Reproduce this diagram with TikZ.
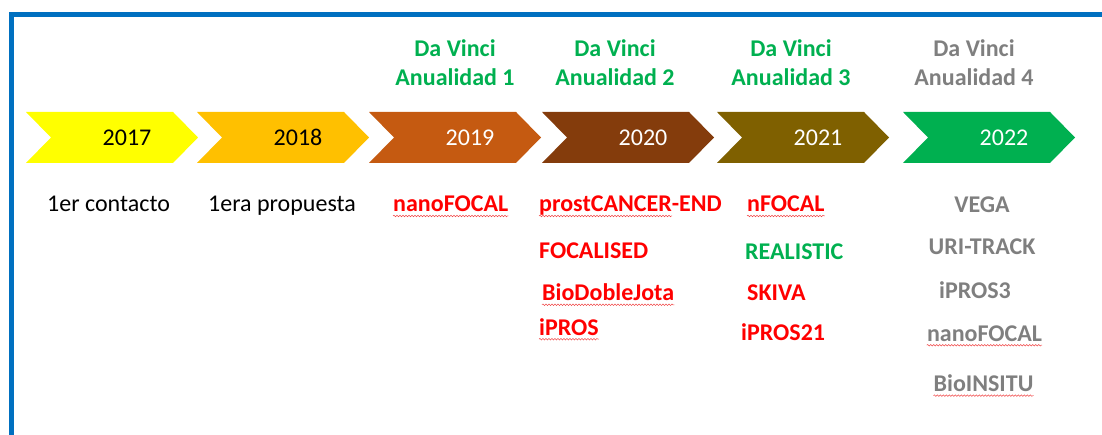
\documentclass[tikz,border=0pt]{standalone}
\usepackage{fontspec}
\setmainfont{Carlito}
\usetikzlibrary{positioning,decorations.pathmorphing}
\definecolor{frameblue}{HTML}{0070C0}
\definecolor{dvgreen}{HTML}{00B050}
\definecolor{dvgray}{HTML}{7F7F7F}
\definecolor{projred}{HTML}{FF0000}
\definecolor{spellred}{HTML}{F04848}
\definecolor{yr17}{HTML}{FFFF00}
\definecolor{yr18}{HTML}{FFC000}
\definecolor{yr19}{HTML}{C55A11}
\definecolor{yr20}{HTML}{843C0C}
\definecolor{yr21}{HTML}{7F6000}
\definecolor{yr22}{HTML}{00B050}

\begin{document}
\begin{tikzpicture}[
    x=1pt, y=1pt,
    every node/.style={font=\fontsize{24}{29}\selectfont, inner sep=0pt},
    year/.style={anchor=base},
    anual/.style={font=\fontsize{24}{29}\selectfont\bfseries, text=dvgreen, align=center},
    hito/.style={anchor=base west, text=black},
    proj/.style={font=\fontsize{24}{29}\selectfont\bfseries, text=projred, text height=17pt, text depth=5pt},
    spell/.style={draw=spellred, line width=0.5pt, decorate, decoration={snake, amplitude=0.8pt, segment length=3pt}}
  ]
  \useasboundingbox (0,0) rectangle (1102,435);
  % marco
  \draw[frameblue, line width=5pt] (11.5,0) -- (11.5,420) -- (1102,420);

  % flechas de los anos
  \foreach \x/\yr/\col/\txt in {26/2017/yr17/black, 197/2018/yr18/black, 369/2019/yr19/white,
                                542/2020/yr20/white, 717/2021/yr21/white, 903/2022/yr22/white}{
    \fill[\col] (\x,323) -- ++(147,0) -- ++(25,-25.5) -- ++(-25,-25.5) -- ++(-147,0) -- ++(25,25.5) -- cycle;
    \node[year, text=\txt] (y\yr) at (\x+101,289) {\yr};
  }

  % anualidades
  \node[anual] (h19) at (455,372.5) {Da Vinci\\Anualidad 1};
  \node[anual] (h20) at (615,372.5) {Da Vinci\\Anualidad 2};
  \node[anual] (h21) at (791,372.5) {Da Vinci\\Anualidad 3};
  \node[anual, text=dvgray] (h22) at (974,372.5) {Da Vinci\\Anualidad 4};

  % hitos
  \node[hito] (c17) at (47,223) {1er contacto};
  \node[hito] (c18) at (208,223) {1era propuesta};
  \node[proj, anchor=base west] (p19) at (393,223) {nanoFOCAL};

  \node[proj, anchor=base west] (p20a) at (539,223) {prostCANCER-END};
  \node[proj, below right=24pt and 0pt of p20a.south west] (p20b) {FOCALISED};
  \node[proj, below right=20pt and 3pt of p20b.south west] (p20c) {BioDobleJota};
  \node[proj, below right=12pt and -3pt of p20c.south west] (p20d) {iPROS};

  \node[proj, anchor=base west] (p21a) at (747,223) {nFOCAL};
  \node[proj, text=dvgreen, below right=25pt and -2pt of p21a.south west] (p21b) {REALISTIC};
  \node[proj, below right=19pt and 2pt of p21b.south west] (p21c) {SKIVA};
  \node[proj, below right=17pt and -6pt of p21c.south west] (p21d) {iPROS21};

  \node[proj, text=dvgray, anchor=base] (p22a) at (982,222) {VEGA};
  \node[proj, text=dvgray, below=19pt of p22a] (p22b) {URI-TRACK};
  \node[proj, text=dvgray, below=22pt of p22b, xshift=-7pt] (p22c) {iPROS3};
  \node[proj, text=dvgray, below=20pt of p22c, xshift=9.5pt] (p22d) {nanoFOCAL};
  \node[proj, text=dvgray, below=28pt of p22d, xshift=-1pt] (p22e) {BioINSITU};

  % subrayado ortografico
  \foreach \n in {p19,p20c,p20d,p21a,p22d,p22e}
    \draw[spell] ([yshift=-4pt]\n.base west) -- ([yshift=-4pt]\n.base east);
  \draw[spell] ([yshift=-4pt]p20a.base west) -- ([xshift=-50pt,yshift=-4pt]p20a.base east);
\end{tikzpicture}
\end{document}
